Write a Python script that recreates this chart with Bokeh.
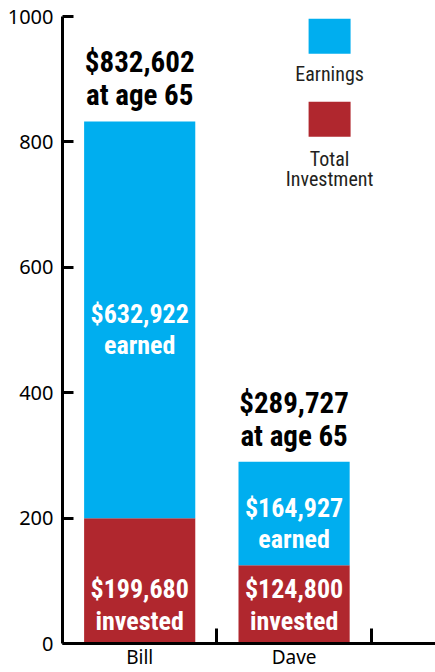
from bokeh.plotting import figure
from bokeh.models import Range1d, FixedTicker, ColumnDataSource
from bokeh.core.properties import value
from bokeh.embed import file_html
from bokeh.resources import INLINE

# ---- data (values in thousands of dollars) ----
people = ["Bill", "Dave"]
invested = [199.680, 124.800]
earnings = [632.922, 164.927]
totals = [832.602, 289.727]
total_labels = ["$832,602", "$289,727"]
earned_labels = ["$632,922", "$164,927"]
invested_labels = ["$199,680", "$124,800"]
y_ticks = [0, 200, 400, 600, 800, 1000]
legend_names = ["Earnings", "Total", "Investment"]

BLUE = "#00AEEF"
RED = "#B0272E"
BOLD_FONT = "Roboto Condensed"
AXIS_FONT = "Noto Sans"

xs = [i + 0.5 for i in range(len(people))]
earn_mid = [a + b / 2 for a, b in zip(invested, earnings)]
src = ColumnDataSource(dict(
    x=xs, invested=invested, earnings=earnings, totals=totals,
    zero=[0] * len(xs), mid=earn_mid,
    tl=total_labels, el=earned_labels, il=invested_labels,
    age=["at age 65"] * len(xs), earned=["earned"] * len(xs),
    inv=["invested"] * len(xs),
))

p = figure(width=435, height=672, x_range=Range1d(0, 2.416), y_range=Range1d(0, 1000),
           output_backend="svg", toolbar_location=None,
           min_border_left=62, min_border_right=0, min_border_top=16, min_border_bottom=29)
p.outline_line_color = None
p.xgrid.visible = False
p.ygrid.visible = False
p.background_fill_color = "white"

BW = 0.72
p.vbar(x="x", bottom="zero", top="invested", width=BW, source=src, fill_color=RED, line_color=None)
p.vbar(x="x", bottom="invested", top="totals", width=BW, source=src, fill_color=BLUE, line_color=None)

common = dict(source=src, text_align="center", text_baseline="alphabetic",
              text_font=value(BOLD_FONT), text_font_style="bold")
# totals above bars
p.text(x="x", y="totals", text="tl", y_offset=-59, text_font_size="29px", text_color="black", **common)
p.text(x="x", y="totals", text="age", y_offset=-26, text_font_size="29px", text_color="black", **common)
# earned labels
p.text(x="x", y="mid", text="el", y_offset=-6, text_font_size="26px", text_color="white", **common)
p.text(x="x", y="mid", text="earned", y_offset=25, text_font_size="26px", text_color="white", **common)
# invested labels
p.text(x="x", y="zero", text="il", y_offset=-55, text_font_size="26px", text_color="white", **common)
p.text(x="x", y="zero", text="inv", y_offset=-23, text_font_size="26px", text_color="white", **common)

# legend (manual, stacked swatch + label)
LX = 1.73
p.rect(x=[LX, LX], y=[968.5, 836.2], width=0.272, height=[55.9, 55.9], fill_color=[BLUE, RED], line_color=None)
p.text(x=[LX, LX, LX], y=[907.5, 773.5, 741.5], text=legend_names,
       text_align="center", text_baseline="alphabetic",
       text_font=value(BOLD_FONT), text_font_size="20px", text_color="#231F20")

# axes
ya = p.yaxis[0]
ya.ticker = FixedTicker(ticks=y_ticks, minor_ticks=[])
ya.axis_line_width = 3
ya.major_tick_line_width = 3
ya.major_tick_in = 11
ya.major_tick_out = 0
ya.minor_tick_line_color = None
ya.major_label_standoff = 9
ya.major_label_text_font = AXIS_FONT
ya.major_label_text_font_size = "20px"
ya.major_label_text_color = "black"

xa = p.xaxis[0]
xa.ticker = FixedTicker(ticks=xs, minor_ticks=[1, 2])
xa.axis_line_width = 3
xa.major_tick_in = 0
xa.major_tick_out = 0
xa.major_tick_line_color = None
xa.minor_tick_in = 15
xa.minor_tick_out = 0
xa.minor_tick_line_width = 3
xa.minor_tick_line_color = "black"
xa.major_label_overrides = {x: n for x, n in zip(xs, people)}
xa.major_label_standoff = 0
xa.major_label_text_font = AXIS_FONT
xa.major_label_text_font_size = "19px"
xa.major_label_text_color = "black"

open("out.html", "w").write(file_html(p, INLINE))
